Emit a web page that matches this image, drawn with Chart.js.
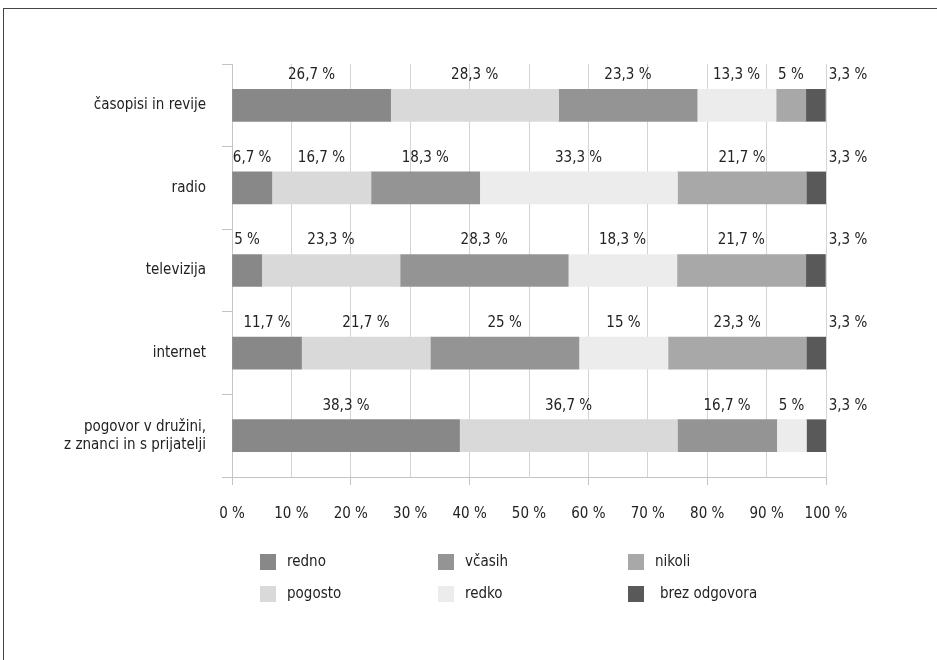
<!DOCTYPE html>
<html>
<head>
<meta charset="utf-8">
<script src="https://cdn.jsdelivr.net/npm/chart.js@4.4.0/dist/chart.umd.min.js"></script>
<style>
  html, body { margin: 0; padding: 0; background: #fff; }
  #okvir { position: absolute; left: 3px; top: 8px; width: 940px; height: 660px;
           border-top: 1px solid #444; border-left: 1px solid #444; }
  #wrap { position: absolute; left: 0; top: 0; width: 937px; height: 660px; }
</style>
</head>
<body>
<div id="okvir"></div>
<div id="wrap"><canvas id="graf"></canvas></div>
<script>
// kategorije (viri informacij)
const kategorije = ['časopisi in revije', 'radio', 'televizija', 'internet', ['pogovor v družini,', 'z znanci in s prijatelji']];

// deleži odgovorov v %
const redno   = [26.7, 6.7, 5, 11.7, 38.3];
const pogosto = [28.3, 16.7, 23.3, 21.7, 36.7];
const vcasih  = [23.3, 18.3, 28.3, 25, 16.7];
const redko   = [13.3, 33.3, 18.3, 15, 5];
const nikoli  = [5, 21.7, 21.7, 23.3, 0];
const brez    = [3.3, 3.3, 3.3, 3.3, 3.3];

const oznake = ['redno', 'pogosto', 'včasih', 'redko', 'nikoli', 'brez odgovora'];
const barve = ['#888888', '#d9d9d9', '#949494', '#ececec', '#a8a8a8', '#595959'];
const serije = [redno, pogosto, vcasih, redko, nikoli, brez];

const pisava = "'Liberation Sans Narrow', 'DejaVu Sans Condensed', 'Arial Narrow', sans-serif";

// zapis s decimalno vejico
const odstotek = v => String(v).replace('.', ',') + ' %';

// napisi nad stolpci; zadnji (brez odgovora) desno od stolpca
const napisiPlugin = {
  id: 'napisi',
  afterDatasetsDraw(chart) {
    const ctx = chart.ctx;
    const zadnji = chart.data.datasets.length - 1;
    ctx.save();
    ctx.font = '15px ' + pisava;
    ctx.fillStyle = '#222';
    ctx.textAlign = 'center';
    ctx.textBaseline = 'middle';
    chart.data.datasets.forEach((ds, i) => {
      chart.getDatasetMeta(i).data.forEach((el, j) => {
        const v = ds.data[j];
        if (!v) return;
        const x = i === zadnji ? chart.chartArea.right + 22 : (el.x + el.base) / 2;
        ctx.fillText(odstotek(v), x, el.y - 30);
      });
    });
    ctx.restore();
  }
};

// legenda v treh stolpcih po dve vrstici
const legendaPlugin = {
  id: 'legenda',
  afterDraw(chart) {
    const ctx = chart.ctx;
    const stolpciX = [260, 438, 628];
    const vrsticeY = [562, 594];
    ctx.save();
    ctx.font = '15px ' + pisava;
    ctx.textBaseline = 'middle';
    chart.data.datasets.forEach((ds, i) => {
      const x = stolpciX[Math.floor(i / 2)];
      const y = vrsticeY[i % 2];
      ctx.fillStyle = ds.backgroundColor;
      ctx.fillRect(x, y - 8, 16, 16);
      ctx.fillStyle = '#222';
      ctx.fillText(ds.label, x + (i === zadnji(chart) ? 32 : 27), y);
    });
    ctx.restore();
  }
};
function zadnji(chart) { return chart.data.datasets.length - 1; }

new Chart(document.getElementById('graf'), {
  type: 'bar',
  data: {
    labels: kategorije,
    datasets: serije.map((s, i) => ({
      label: oznake[i],
      data: s,
      backgroundColor: barve[i],
      borderWidth: 0,
      barThickness: 32
    }))
  },
  options: {
    indexAxis: 'y',
    responsive: true,
    maintainAspectRatio: false,
    animation: false,
    layout: { padding: { left: 0, top: 64, right: 111, bottom: 133 } },
    plugins: {
      legend: { display: false },
      tooltip: { enabled: false }
    },
    scales: {
      x: {
        stacked: true,
        min: 0,
        max: 100,
        ticks: {
          stepSize: 10,
          padding: 20,
          color: '#222',
          font: { family: pisava, size: 15 },
          callback: v => v + ' %'
        },
        grid: {
          color: '#d4d4d4',
          tickLength: 8,
          tickColor: c => (c.index % 2 === 0 ? '#c4c4c4' : 'rgba(0,0,0,0)')
        },
        border: { color: '#c4c4c4' },
        afterFit: s => { s.height = 50; }
      },
      y: {
        stacked: true,
        ticks: {
          padding: 16,
          color: '#222',
          font: { family: pisava, size: 15 }
        },
        grid: {
          offset: true,
          drawOnChartArea: false,
          color: '#c4c4c4',
          tickLength: 10
        },
        border: { color: '#c4c4c4' },
        afterFit: s => { s.width = 232; }
      }
    }
  },
  plugins: [napisiPlugin, legendaPlugin]
});
</script>
</body>
</html>
